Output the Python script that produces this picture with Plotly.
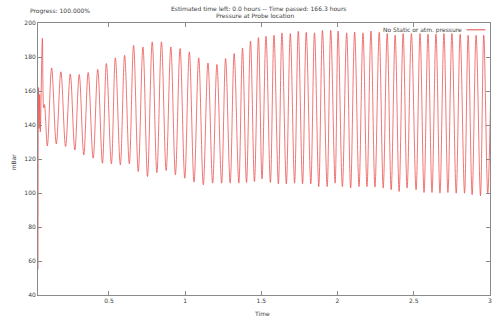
import plotly.graph_objects as go

# Probe pressure record: successive turning points (time, mBar)
time_pts = [
    0.0340, 0.0373, 0.0412, 0.0451, 0.0490, 0.0627, 0.0712, 0.0765, 0.0954,
    0.1235, 0.1542, 0.1843, 0.2150, 0.2458, 0.2758, 0.3046, 0.3346, 0.3634,
    0.3961, 0.4261, 0.4569, 0.4830, 0.5157, 0.5418, 0.5745, 0.6026, 0.6333,
    0.6614, 0.6922, 0.7229, 0.7529, 0.7837, 0.8144, 0.8444, 0.8752, 0.9059,
    0.9359, 0.9667, 0.9974, 1.0275, 1.0582, 1.0889, 1.1190, 1.1497, 1.1804,
    1.2085, 1.2392, 1.2654, 1.2954, 1.3216, 1.3523, 1.3765, 1.4026, 1.4288,
    1.4549, 1.4810, 1.5046, 1.5307, 1.5595, 1.5830, 1.6118, 1.6353, 1.6641,
    1.6902, 1.7183, 1.7425, 1.7706, 1.7948, 1.8248, 1.8490, 1.8771, 1.9013,
    1.9320, 1.9556, 1.9843, 2.0039, 2.0320, 2.0601, 2.0863, 2.1124, 2.1412,
    2.1673, 2.1935, 2.2196, 2.2458, 2.2739, 2.3000, 2.3261, 2.3523, 2.3784,
    2.4046, 2.4307, 2.4569, 2.4850, 2.5157, 2.5418, 2.5680, 2.5941, 2.6203,
    2.6464, 2.6725, 2.6987, 2.7248, 2.7510, 2.7791, 2.8052, 2.8340, 2.8575,
    2.8837, 2.9098, 2.9386, 2.9601, 2.9863, 3.0118,
]
pressure_pts = [
    55.0, 162.0, 138.0, 158.0, 136.0, 191.0, 150.0, 152.0, 127.7,
    173.6, 128.9, 171.3, 127.3, 170.0, 125.3, 169.7, 122.4, 170.9,
    120.5, 172.7, 117.5, 176.2, 117.1, 179.5, 116.5, 181.0, 117.1,
    186.9, 112.6, 185.9, 109.7, 188.9, 112.0, 188.9, 113.2, 185.9,
    110.7, 185.0, 108.7, 183.0, 106.4, 179.5, 104.8, 176.5, 105.8,
    175.6, 105.8, 179.1, 105.8, 182.0, 105.8, 185.3, 106.2, 189.4,
    106.7, 191.4, 108.2, 192.2, 106.2, 192.8, 105.4, 194.2, 105.4,
    193.8, 105.8, 195.1, 105.4, 194.5, 105.4, 194.2, 103.8, 195.7,
    103.8, 195.7, 105.8, 195.3, 103.8, 194.2, 102.9, 194.7, 103.8,
    194.2, 103.8, 195.3, 103.5, 194.5, 102.9, 193.8, 101.9, 192.8,
    100.9, 193.8, 102.9, 193.8, 101.9, 193.8, 100.3, 193.4, 100.3,
    193.4, 99.9, 193.8, 100.3, 193.8, 99.9, 193.4, 99.9, 192.8,
    99.0, 192.8, 98.4, 192.8, 99.9, 192.2,
]

series_name = "No Static or atm. pressure"
line_color = "#ea4a4a"
font_family = "DejaVu Sans"
text_color = "#3c3c3c"
axis_color = "#8a8a8a"

fig = go.Figure()
fig.add_trace(go.Scatter(
    x=time_pts, y=pressure_pts, mode="lines", name=series_name,
    line=dict(color=line_color, width=0.75, shape="spline", smoothing=1.0),
    showlegend=False,
))

axis_common = dict(
    showgrid=False, zeroline=False, showline=True, linecolor=axis_color,
    linewidth=1, mirror="allticks", ticks="inside", ticklen=4,
    tickcolor=axis_color, tickfont=dict(family=font_family, size=6, color=text_color),
)
fig.update_xaxes(range=[0.034, 3.001], tick0=0, dtick=0.5, **axis_common)
fig.update_yaxes(range=[40, 200], tick0=40, dtick=20, **axis_common)

small = dict(family=font_family, size=6, color=text_color)
fig.update_layout(
    width=494, height=320,
    margin=dict(l=38, r=2, t=23, b=25),
    paper_bgcolor="white", plot_bgcolor="white",
    annotations=[
        dict(text="Progress: 100.000%", xref="paper", yref="paper",
             x=-0.023, y=1.045, xanchor="left", yanchor="middle",
             showarrow=False, font=small),
        dict(text="Estimated time left: 0.0 hours -- Time passed: 166.3 hours",
             xref="paper", yref="paper", x=0.29, y=1.051,
             xanchor="left", yanchor="middle", showarrow=False, font=small),
        dict(text="Pressure at Probe location", xref="paper", yref="paper",
             x=0.48, y=1.028, xanchor="center", yanchor="middle",
             showarrow=False, font=small),
        dict(text="mBar", xref="paper", yref="paper", x=-0.054, y=0.49,
             xanchor="center", yanchor="middle", textangle=-90,
             showarrow=False, font=small),
        dict(text="Time", xref="paper", yref="paper", x=0.496, y=-0.068,
             xanchor="center", yanchor="middle", showarrow=False, font=small),
        dict(text=series_name, xref="paper", yref="paper", x=0.942, y=0.975,
             xanchor="right", yanchor="middle", showarrow=False, font=small),
    ],
    shapes=[
        dict(type="line", xref="paper", yref="paper", x0=0.948, x1=0.99,
             y0=0.975, y1=0.975, line=dict(color=line_color, width=1)),
    ],
)

fig.write_html("out.html")
